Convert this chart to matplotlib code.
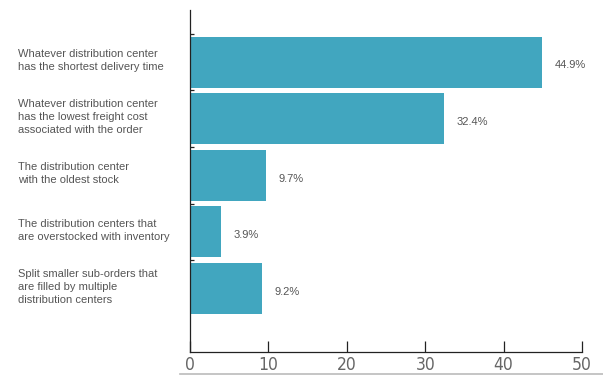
import matplotlib
matplotlib.use("Agg")
import matplotlib.pyplot as plt
from matplotlib.lines import Line2D

categories = [
    "Whatever distribution center\nhas the shortest delivery time",
    "Whatever distribution center\nhas the lowest freight cost\nassociated with the order",
    "The distribution center\nwith the oldest stock",
    "The distribution centers that\nare overstocked with inventory",
    "Split smaller sub-orders that\nare filled by multiple\ndistribution centers",
]
values = [44.9, 32.4, 9.7, 3.9, 9.2]
xticks = [0, 10, 20, 30, 40, 50]

bar_color = "#41a6bf"
text_color = "#555555"

fig = plt.figure(figsize=(6.03, 3.75), dpi=100)
W, H = 603, 375
ax = fig.add_axes([190 / W, (H - 352) / H, (582 - 190) / W, (352 - 10) / H])

pos = list(range(len(values)))
ax.barh(pos, values, height=0.9, color=bar_color)
ax.set_ylim(5.12, -0.92)
ax.set_xlim(0, 50)

for p, v in zip(pos, values):
    ax.text(v + 1.6, p + 0.06, f"{v}%", va="center", ha="left",
            fontsize=8, color=text_color, family="Liberation Sans")

for p, c in zip(pos, categories):
    ax.text(-172 / 392 * 50, p - 0.03, c, va="center", ha="left",
            fontsize=8, color=text_color, family="Liberation Sans",
            linespacing=1.37, transform=ax.transData)

for s in ["top", "right"]:
    ax.spines[s].set_visible(False)
ax.spines["left"].set_color("#222222")
ax.spines["bottom"].set_color("#222222")
ax.spines["left"].set_linewidth(0.9)
ax.spines["bottom"].set_linewidth(0.9)

ax.set_xticks(xticks)
ax.set_xticklabels([str(t) for t in xticks], fontsize=12.5, color="#666666",
                   family="DejaVu Sans", fontstretch="condensed", fontweight="light")
ax.tick_params(axis="x", direction="in", length=8, width=0.9, color="#222222", pad=3)
ax.set_yticks([-0.5, 0.5, 1.5, 2.5, 3.5])
ax.set_yticklabels([])
ax.tick_params(axis="y", direction="in", length=3, width=0.9, color="#222222")

fig.add_artist(Line2D([180 / W, 1.0], [1.5 / H, 1.5 / H], color="#bbbbbb", lw=1.2,
                      transform=fig.transFigure))

fig.savefig("out.png", dpi=100)
